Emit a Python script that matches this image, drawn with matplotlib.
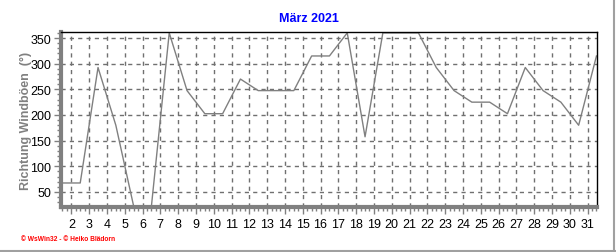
import matplotlib
matplotlib.use("Agg")
import matplotlib.pyplot as plt
from matplotlib.ticker import MultipleLocator

plt.rcParams['font.family'] = ['Liberation Sans', 'DejaVu Sans']

# Tage (Tagesmitte) und Richtung der Windböen in Grad
tage = [d + 0.5 for d in range(1, 32)]
richtung = [
    67.5, 67.5, 292.5, 180, 22.5, 22.5, 360, 247.5, 202.5, 202.5,
    270, 247.5, 247.5, 247.5, 315, 315, 360, 157.5, 360, 360,
    360, 292.5, 247.5, 225, 225, 202.5, 292.5, 247.5, 225, 180,
    315,
]
x_ticks = list(range(2, 32))
y_ticks = [50, 100, 150, 200, 250, 300, 350]

grau = '#808080'

fig = plt.figure(figsize=(6.16, 2.53), dpi=100)
ax = fig.add_axes([61 / 616, 45 / 253, 536 / 616, 175 / 253])

ax.plot(tage, richtung, color=grau, linewidth=1.0)

ax.set_xlim(1.42, 31.53)
ax.set_ylim(20.7, 361.7)
ax.set_xticks(x_ticks)
ax.set_yticks(y_ticks)
ax.xaxis.set_minor_locator(MultipleLocator(0.25))
ax.yaxis.set_minor_locator(MultipleLocator(10))

ax.grid(True, which='major', color='#707070', linestyle=(0, (3, 3)), linewidth=1.0)
ax.set_axisbelow(True)

for side in ['left', 'bottom']:
    ax.spines[side].set_color(grau)
    ax.spines[side].set_linewidth(3)
for side in ['top', 'right']:
    ax.spines[side].set_color('black')
    ax.spines[side].set_linewidth(1.0)

ax.tick_params(axis='both', which='major', length=5, width=1, color=grau,
               labelsize=9, labelcolor='black', direction='out')
ax.tick_params(axis='both', which='minor', length=3, width=1, color=grau,
               direction='out')
ax.tick_params(axis='x', pad=3)
ax.tick_params(axis='y', pad=2)

ax.set_ylabel('Richtung Windböen  (°)', color=grau, fontsize=9,
              fontweight='bold')
ax.yaxis.set_label_coords(-0.055, 0.5)
fig.text(309 / 616, 1 - 19 / 253, 'März 2021', color='#0000ff', fontsize=9,
         fontweight='bold', ha='center', va='center')
fig.text(21 / 616, 1 - 240 / 253, '© WsWin32 - © Heiko Blädorn', color='red',
         fontsize=4.8, fontweight='bold', ha='left', va='center')

# grauer Rahmen rechts und unten
fig.add_artist(plt.Line2D([0, 1], [1.5 / 253, 1.5 / 253], color='#a0a0a0',
                          linewidth=1.5, transform=fig.transFigure))
fig.add_artist(plt.Line2D([1 - 2 / 616, 1 - 2 / 616], [0, 1], color='#a0a0a0',
                          linewidth=1.5, transform=fig.transFigure))

fig.savefig('out.png', dpi=100)
